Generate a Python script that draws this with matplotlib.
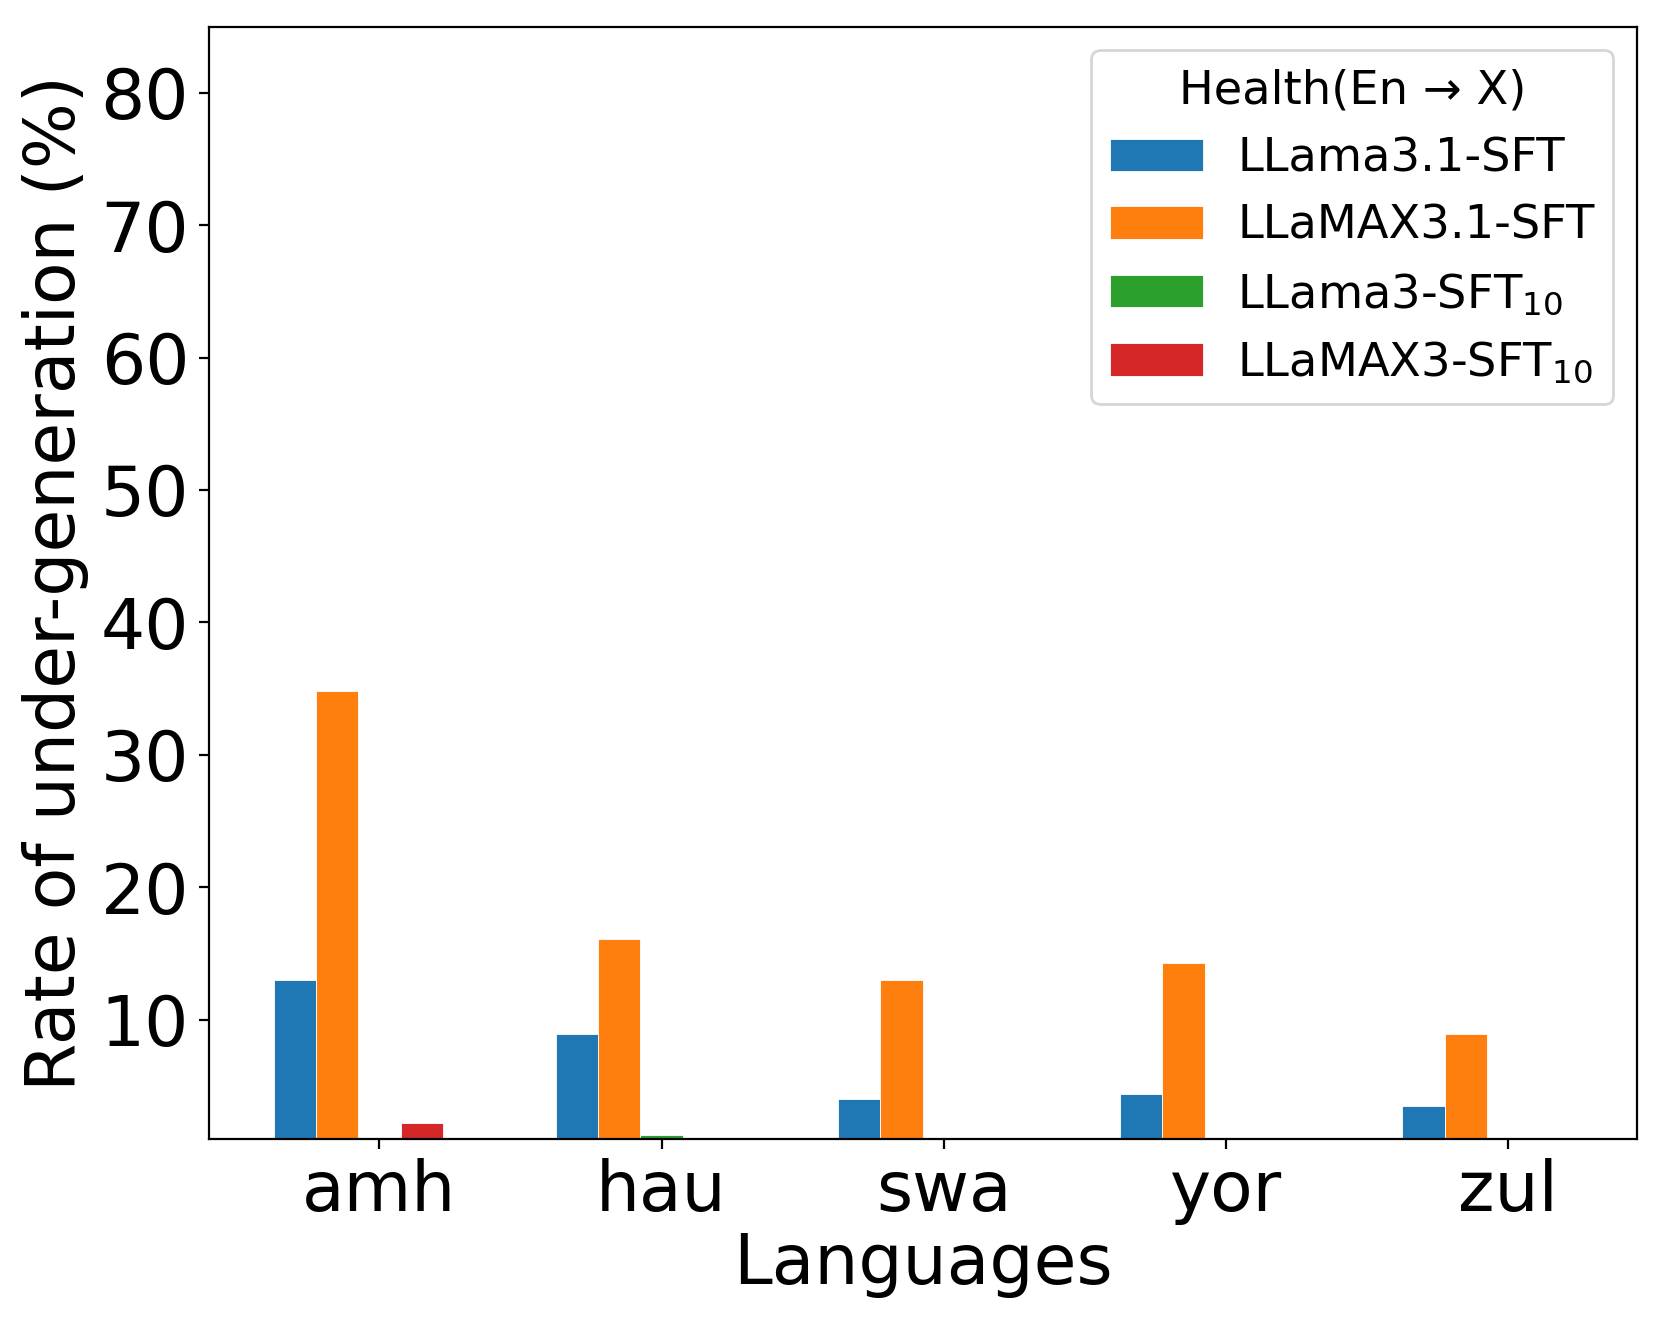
import matplotlib
matplotlib.use("Agg")
import matplotlib.pyplot as plt
import numpy as np

languages = ["amh", "hau", "swa", "yor", "zul"]
llama31_sft = [13.0, 8.9, 4.0, 4.4, 3.5]
llamax31_sft = [34.8, 16.1, 13.0, 14.3, 8.9]
llama3_sft10 = [0.0, 1.3, 0.0, 0.0, 0.0]
llamax3_sft10 = [2.2, 0.0, 0.0, 0.0, 0.0]

series_labels = ["LLama3.1-SFT", "LLaMAX3.1-SFT", r"LLama3-SFT$_{10}$", r"LLaMAX3-SFT$_{10}$"]
series = [llama31_sft, llamax31_sft, llama3_sft10, llamax3_sft10]
colors = ["#1f77b4", "#ff7f0e", "#2ca02c", "#d62728"]

fig = plt.figure(figsize=(8.305, 6.645), dpi=200)
ax = fig.add_axes([0.1256, 0.1432, 0.8597, 0.8368])

x = np.arange(len(languages))
width = 0.15
for i, (vals, lab, col) in enumerate(zip(series, series_labels, colors)):
    ax.bar(x + (i - 2) * width, vals, width, label=lab, color=col,
           edgecolor="white", linewidth=0.3)

ax.set_ylim(1, 85)
ax.set_yticks([10, 20, 30, 40, 50, 60, 70, 80])
ax.set_xticks(x)
ax.set_xticklabels(languages)
ax.tick_params(axis="both", labelsize=25)
ax.set_xlabel("Languages", fontsize=25, labelpad=2)
ax.set_ylabel("Rate of under-generation (%)", fontsize=25)
ax.legend(title="Health(En → X)", fontsize=16.7, title_fontsize=16.7, loc="upper right",
          labelspacing=0.49, handletextpad=0.75)

fig.savefig("out.png", dpi=200)
